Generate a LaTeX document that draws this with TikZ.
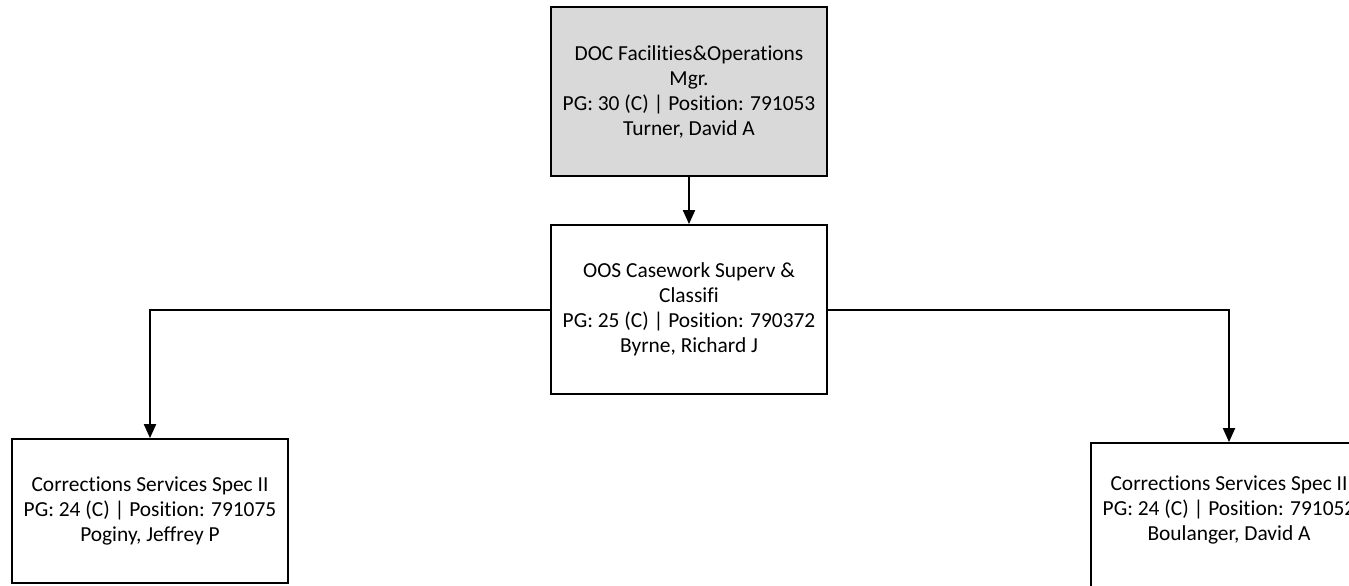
\documentclass[tikz,border=0pt]{standalone}
\usepackage{fontspec}
\setmainfont{Carlito}[Ligatures=NoCommon]
\usetikzlibrary{arrows.meta}
\definecolor{boxgray}{RGB}{217,217,217}
\begin{document}
\begin{tikzpicture}[x=1pt,y=-1pt,
  orgbox/.style={draw=black, line width=1.8pt, fill=white, minimum width=276pt,
    align=center, inner sep=0pt, font=\fontsize{21.4}{25}\selectfont},
  tallbox/.style={orgbox, minimum height=169pt},
  lowbox/.style={orgbox, minimum height=144pt},
  link/.style={draw=black, line width=2pt, -{Triangle[length=14pt,width=12pt]}}]
\useasboundingbox (0,0) rectangle (1349,586);
\clip (0,0) rectangle (1349,586);
\node[tallbox, fill=boxgray] (top) at (689,91.5) {DOC Facilities\&Operations\\Mgr.\\PG: 30 (C) | Position: 791053\\Turner, David A};
\node[tallbox] (mid) at (689,309.5) {OOS Casework Superv \&\\Classifi\\PG: 25 (C) | Position: 790372\\Byrne, Richard J};
\node[lowbox] (left) at (150,511) {Corrections Services Spec II\\PG: 24 (C) | Position: 791075\\Poginy, Jeffrey P};
\node[lowbox, text depth=14pt] (right) at (1229,515) {Corrections Services Spec II\\PG: 24 (C) | Position: 791052\\Boulanger, David A};
\draw[link] (top.south) -- (mid.north);
\draw[link] (mid.west) -| (left.north);
\draw[link] (mid.east) -| (right.north);
\end{tikzpicture}
\end{document}
